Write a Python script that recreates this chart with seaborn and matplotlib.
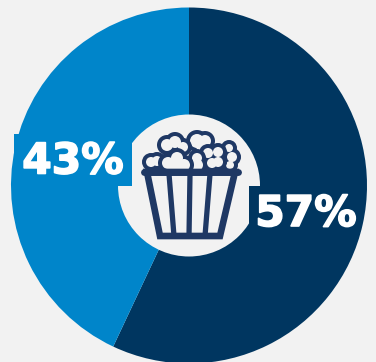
import matplotlib
matplotlib.use("Agg")
import matplotlib.pyplot as plt
import matplotlib.patheffects as pe
from matplotlib.patches import Circle, Polygon, Rectangle
import seaborn as sns

shares = [57, 43]
labels = ["57%", "43%"]
colors = ["#003660", "#0085CA"]
background = "#F2F2F2"
icon_color = "#1F3864"

sns.set_theme(style="white")
plt.rcParams["font.family"] = ["DejaVu Sans"]

fig = plt.figure(figsize=(3.76, 3.62), dpi=100, facecolor=background)
ax = fig.add_axes([0, 0, 1, 1])

# Ring, clockwise from twelve o'clock in a y-down axes
cx, cy, outer, inner = 189, 185.5, 178, 71
ax.pie(shares, colors=colors, startangle=-90, counterclock=True, radius=outer,
       center=(cx, cy), frame=True, wedgeprops={"linewidth": 0})
ax.set_xlim(0, 376)
ax.set_ylim(362, 0)
ax.set_aspect("auto")
ax.axis("off")
ax.add_patch(Circle((cx, cy), inner, fc=background, ec="none", zorder=3))

# Value labels on boxes of the wedge colour
ax.add_patch(Rectangle((14, 134), 118, 52, fc=colors[1], ec="none", zorder=4))
ax.add_patch(Rectangle((249, 186), 109, 52, fc=colors[0], ec="none", zorder=4))
thicken = [pe.withStroke(linewidth=1.2, foreground="white")]
ax.text(73, 157, labels[1], color="white", fontsize=30.5, fontweight="bold",
        ha="center", va="center_baseline", zorder=5, path_effects=thicken)
ax.text(306, 209.5, labels[0], color="white", fontsize=30.5, fontweight="bold",
        ha="center", va="center_baseline", zorder=5, path_effects=thicken)

# Popcorn kernels, back to front; each kernel is a cluster of overlapping lobes
kernels = [
    [(197, 141, 7), (205, 141, 6), (202, 146, 6)],
    [(229, 148, 4), (232, 157, 5), (230, 165, 4)],
    [(151, 162, 5), (157, 161, 5)],
    [(167, 145, 6), (175, 142, 6), (183, 147, 5)],
    [(208, 153, 5), (218, 152, 5), (218, 162, 5), (212, 163, 5)],
    [(197, 158, 5), (197, 165, 6)],
    [(168, 163, 6), (177, 158, 6), (184, 165, 6), (175, 167, 7)],
]
stroke = 4
for i, lobes in enumerate(kernels):
    for x, y, r in lobes:
        ax.add_patch(Circle((x, y), r + stroke, fc=icon_color, ec="none", zorder=6 + 2 * i))
    for x, y, r in lobes:
        ax.add_patch(Circle((x, y), r, fc=background, ec="none", zorder=7 + 2 * i))

# Bucket with its stripes
top = 30
ax.add_patch(Polygon([(147, 172), (235, 172), (220, 236), (160, 236)], closed=True,
                     fc=background, ec=icon_color, lw=4.8, joinstyle="miter", zorder=top))
ax.plot([144, 238], [172, 172], color=icon_color, lw=5, solid_capstyle="round", zorder=top + 1)
for x0, x1 in [(169, 174), (190, 189), (210, 205)]:
    ax.plot([x0, x1], [174, 236], color=icon_color, lw=3.8, solid_capstyle="butt", zorder=top + 1)

fig.savefig("out.png", dpi=100, facecolor=background)
